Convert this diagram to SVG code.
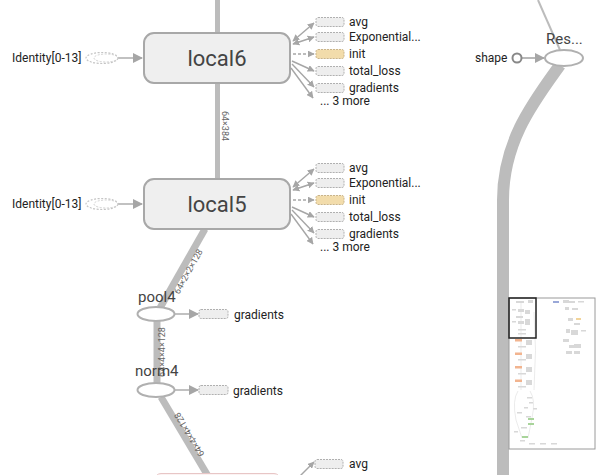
<svg xmlns="http://www.w3.org/2000/svg" width="607" height="475" viewBox="0 0 607 475">
<defs>
<style>
.band{fill:none;stroke:#bcbcbc;stroke-linecap:butt}
.ann{stroke:#a6a6a6;stroke-width:1.4;fill:none}
.dash{stroke-dasharray:3,2}
.abox{fill:#eeeeee;stroke:#b0b0b0;stroke-width:1;stroke-dasharray:2,1}
.ibox{fill:#f2dcab;stroke:#c9b48a;stroke-width:1;stroke-dasharray:2,1}
.alab{font-family:Roboto,"Liberation Sans",sans-serif;font-size:12px;fill:#222}
.nlab{font-family:Roboto,"Liberation Sans",sans-serif;fill:#444}
.elab{font-family:Roboto,"Liberation Sans",sans-serif;font-size:9px;fill:#666}
.meta{fill:#efefef;stroke:#a8a8a8;stroke-width:2}
.op{fill:#fff;stroke:#b0b0b0;stroke-width:2}
</style>
<marker id="ah" viewBox="0 0 10 10" refX="9" refY="5" markerWidth="7" markerHeight="7" markerUnits="userSpaceOnUse" orient="auto-start-reverse">
<path d="M0,0 L10,5 L0,10 z" fill="#a6a6a6"/>
</marker>
<marker id="ahb" viewBox="0 0 10 10" refX="9" refY="5" markerWidth="10" markerHeight="10" markerUnits="userSpaceOnUse" orient="auto">
<path d="M0,0 L10,5 L0,10 z" fill="#a6a6a6"/>
</marker>
</defs>
<rect width="607" height="475" fill="#ffffff"/>

<g id="connectors">
<line class="band" x1="217.5" y1="0" x2="217.5" y2="33" stroke-width="5"/>
<line class="band" x1="217.5" y1="83" x2="217.5" y2="178" stroke-width="5"/>
<text class="elab" transform="translate(221.5,126) rotate(90)" text-anchor="middle">64×384</text>
<line class="band" x1="205" y1="229" x2="160" y2="308" stroke-width="7"/>
<text class="elab" transform="translate(191,273) rotate(-61)" text-anchor="middle">64×2×2×128</text>
<line class="band" x1="157" y1="321" x2="157" y2="383" stroke-width="7"/>
<text class="elab" transform="translate(165,352) rotate(-90)" text-anchor="middle">64×4×4×128</text>
<line class="band" x1="161" y1="397" x2="208" y2="476" stroke-width="7"/>
<text class="elab" transform="translate(192,433) rotate(-121)" text-anchor="middle">64×4×4×128</text>
<line x1="538" y1="0" x2="560" y2="50" stroke="#bcbcbc" stroke-width="2"/>
<path class="band" d="M560,65 C535,100 503,140 503,200 L503,475" stroke-width="12"/>
<line class="ann" x1="118" y1="58" x2="142" y2="58" marker-end="url(#ahb)"/>
<line class="ann" x1="118" y1="204" x2="142" y2="204" marker-end="url(#ahb)"/>
<line class="ann" x1="175" y1="314" x2="198" y2="314" marker-end="url(#ahb)"/>
<line class="ann" x1="175" y1="390" x2="198" y2="390" marker-end="url(#ahb)"/>
<line x1="522" y1="58" x2="544" y2="58" stroke="#a6a6a6" stroke-width="1.6" marker-end="url(#ahb)"/>
<line class="ann" x1="300" y1="476" x2="314" y2="462" marker-end="url(#ah)"/>
</g>

<g id="local6">
<rect class="meta" x="144" y="33" width="146" height="50" rx="10"/>
<text class="nlab" x="217" y="66" font-size="22" text-anchor="middle">local6</text>
</g>
<g id="local6-in">
<ellipse cx="102" cy="58" rx="16" ry="5.5" fill="#fff" stroke="#c4c4c4" stroke-width="1.2" stroke-dasharray="2,1.5"/>
<ellipse cx="106" cy="58" rx="12" ry="4" fill="none" stroke="#d0d0d0" stroke-width="1" stroke-dasharray="2,1.5"/>
<text class="alab" x="12" y="62">Identity[0-13]</text>
</g>
<g id="local6-out">
<line class="ann" x1="293" y1="41" x2="314" y2="23" marker-start="url(#ah)" marker-end="url(#ah)"/>
<line class="ann" x1="293" y1="44" x2="314" y2="37" marker-start="url(#ah)" marker-end="url(#ah)"/>
<line class="ann dash" x1="293" y1="54" x2="314" y2="54" marker-end="url(#ah)"/>
<line class="ann" x1="292" y1="61" x2="314" y2="71" marker-end="url(#ah)"/>
<line class="ann" x1="292" y1="64" x2="314" y2="87" marker-end="url(#ah)"/>
<line class="ann" x1="291" y1="68" x2="313" y2="98" marker-end="url(#ah)"/>
<rect class="abox" x="316" y="17.5" width="28" height="9" rx="2"/>
<rect class="abox" x="316" y="32.5" width="28" height="9" rx="2"/>
<rect class="ibox" x="316" y="49.5" width="28" height="9" rx="2"/>
<rect class="abox" x="316" y="66.5" width="28" height="9" rx="2"/>
<rect class="abox" x="316" y="83.5" width="28" height="9" rx="2"/>
<text class="alab" x="349" y="26">avg</text>
<text class="alab" x="349" y="41">Exponential...</text>
<text class="alab" x="349" y="58">init</text>
<text class="alab" x="349" y="75">total_loss</text>
<text class="alab" x="349" y="92">gradients</text>
<text class="alab" x="320" y="105">... 3 more</text>
</g>

<g id="local5">
<rect class="meta" x="144" y="179" width="146" height="50" rx="10"/>
<text class="nlab" x="217" y="212" font-size="22" text-anchor="middle">local5</text>
</g>
<g id="local5-in">
<ellipse cx="102" cy="204" rx="16" ry="5.5" fill="#fff" stroke="#c4c4c4" stroke-width="1.2" stroke-dasharray="2,1.5"/>
<ellipse cx="106" cy="204" rx="12" ry="4" fill="none" stroke="#d0d0d0" stroke-width="1" stroke-dasharray="2,1.5"/>
<text class="alab" x="12" y="208">Identity[0-13]</text>
</g>
<g id="local5-out" transform="translate(0,146)">
<line class="ann" x1="293" y1="41" x2="314" y2="23" marker-start="url(#ah)" marker-end="url(#ah)"/>
<line class="ann" x1="293" y1="44" x2="314" y2="37" marker-start="url(#ah)" marker-end="url(#ah)"/>
<line class="ann dash" x1="293" y1="54" x2="314" y2="54" marker-end="url(#ah)"/>
<line class="ann" x1="292" y1="61" x2="314" y2="71" marker-end="url(#ah)"/>
<line class="ann" x1="292" y1="64" x2="314" y2="87" marker-end="url(#ah)"/>
<line class="ann" x1="291" y1="68" x2="313" y2="98" marker-end="url(#ah)"/>
<rect class="abox" x="316" y="17.5" width="28" height="9" rx="2"/>
<rect class="abox" x="316" y="32.5" width="28" height="9" rx="2"/>
<rect class="ibox" x="316" y="49.5" width="28" height="9" rx="2"/>
<rect class="abox" x="316" y="66.5" width="28" height="9" rx="2"/>
<rect class="abox" x="316" y="83.5" width="28" height="9" rx="2"/>
<text class="alab" x="349" y="26">avg</text>
<text class="alab" x="349" y="41">Exponential...</text>
<text class="alab" x="349" y="58">init</text>
<text class="alab" x="349" y="75">total_loss</text>
<text class="alab" x="349" y="92">gradients</text>
<text class="alab" x="320" y="105">... 3 more</text>
</g>

<g id="pool4">
<ellipse class="op" cx="156" cy="314" rx="18.5" ry="7"/>
<text class="nlab" x="138" y="302" font-size="15">pool4</text>
<rect class="abox" x="199" y="309.5" width="29" height="9" rx="2"/>
<text class="alab" x="234" y="319">gradients</text>
</g>

<g id="norm4">
<ellipse class="op" cx="156" cy="390" rx="18.5" ry="7"/>
<text class="nlab" x="135" y="376" font-size="15">norm4</text>
<rect class="abox" x="199" y="385.5" width="29" height="9" rx="2"/>
<text class="alab" x="233" y="395">gradients</text>
</g>

<g id="local4">
<rect x="155" y="473.5" width="125" height="30" rx="6" fill="#fbf3f3" stroke="#e8c6c6" stroke-width="1"/>
<rect class="abox" x="315" y="459.5" width="28" height="9" rx="2"/>
<text class="alab" x="349" y="468">avg</text>
</g>

<g id="reshape">
<circle cx="517" cy="58" r="4.5" fill="#fff" stroke="#888" stroke-width="2"/>
<text class="alab" x="475" y="62">shape</text>
<ellipse class="op" cx="564" cy="58" rx="19" ry="8"/>
<text class="nlab" x="546" y="44" font-size="15">Res...</text>
</g>

<g id="minimap">
<rect x="509" y="298" width="86" height="151" fill="#ffffff" stroke="#9a9a9a" stroke-width="1"/>
<g fill="#d8d8d8">
<rect x="516" y="301" width="8" height="2"/><rect x="528" y="300" width="5" height="3"/>
<rect x="512" y="309" width="4" height="1.5"/><rect x="518" y="309" width="6" height="3"/><rect x="525" y="310" width="5" height="4"/>
<rect x="516" y="316" width="7" height="2"/><rect x="512" y="321" width="4" height="1.5"/><rect x="518" y="321" width="6" height="3"/><rect x="525" y="319" width="5" height="6"/>
<rect x="518" y="329" width="8" height="1.5"/><rect x="518" y="333" width="8" height="1.5"/>
<rect x="526" y="340" width="6" height="5"/><rect x="526" y="354" width="6" height="5"/><rect x="526" y="367" width="6" height="5"/><rect x="526" y="380" width="6" height="5"/>
<rect x="518" y="346" width="8" height="1.5"/><rect x="518" y="359" width="8" height="1.5"/><rect x="518" y="373" width="8" height="1.5"/><rect x="518" y="386" width="8" height="1.5"/>
<rect x="563" y="300" width="6" height="3"/><rect x="569" y="301" width="6" height="2"/><rect x="578" y="301" width="6" height="1.5"/>
<rect x="565" y="307" width="4" height="3"/><rect x="572" y="308" width="6" height="2"/>
<rect x="568" y="318" width="5" height="3"/><rect x="574" y="323" width="6" height="2"/>
<rect x="566" y="329" width="4" height="4"/><rect x="571" y="330" width="7" height="5"/><rect x="581" y="330" width="5" height="1.5"/>
<rect x="563" y="339" width="6" height="3"/><rect x="569" y="345" width="6" height="3"/><rect x="574" y="344" width="7" height="4"/>
<rect x="566" y="351" width="6" height="3"/><rect x="574" y="351" width="6" height="3"/>
<rect x="527" y="397" width="5" height="1.5"/><rect x="529" y="402" width="4" height="1.5"/><rect x="524" y="407" width="4" height="1.5"/><rect x="533" y="408" width="4" height="1.5"/>
<rect x="517" y="412" width="5" height="1.5"/><rect x="526" y="416" width="5" height="1.5"/><rect x="521" y="427" width="6" height="1.5"/>
<rect x="514" y="431" width="4" height="1.5"/><rect x="520" y="440" width="5" height="1.5"/><rect x="529" y="443" width="6" height="1.5"/><rect x="540" y="443" width="6" height="1.5"/><rect x="551" y="443" width="6" height="1.5"/>
</g>
<g fill="none" stroke="#dddddd" stroke-width="0.6">
<path d="M521,303 L521,340 L521,390"/>
<path d="M534,312 Q537,350 534,390"/>
<path d="M518,391 Q512,400 516,420 L522,438"/>
<path d="M530,391 Q536,400 532,418 L528,438"/>
</g>
<g>
<rect x="515" y="339" width="7" height="2.5" fill="#f2b48f"/>
<rect x="515" y="352.5" width="7" height="2.5" fill="#f2b48f"/>
<rect x="515" y="366" width="7" height="2.5" fill="#f2b48f"/>
<rect x="515" y="379.5" width="7" height="2.5" fill="#f2b48f"/>
<rect x="528" y="418" width="6" height="2" fill="#a8d49a"/>
<rect x="528" y="423" width="6" height="2" fill="#a8d49a"/>
<rect x="522" y="436" width="6" height="2" fill="#a8d49a"/>
<rect x="553" y="301" width="6" height="2" fill="#9aa8d8"/>
<rect x="576" y="318" width="5" height="2" fill="#f2d49a"/>
</g>
<rect x="509" y="298" width="27" height="40" fill="none" stroke="#222" stroke-width="1.5"/>
</g>
</svg>
